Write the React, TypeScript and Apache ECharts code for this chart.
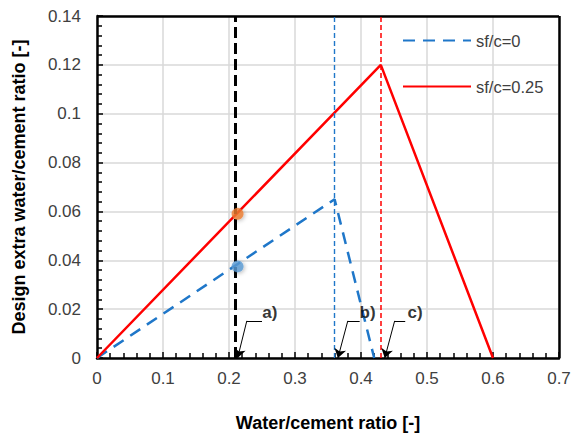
import React, { useEffect, useRef } from "react";
import * as echarts from "echarts";

const blueX = [0, 0.36, 0.42];
const blueY = [0, 0.065, 0];
const redX = [0, 0.43, 0.6];
const redY = [0, 0.12, 0];
const markA = 0.213;
const markB = 0.36;
const markC = 0.43;
const pointOrange = [0.213, 0.059];
const pointBlue = [0.213, 0.0375];
const annLabels = ["a)", "b)", "c)"];
const annTipX = [0.213, 0.365, 0.436];
const annElbowX = [0.227, 0.38, 0.451];
const annEndX = [0.25, 0.398, 0.467];
const annElbowY = 0.0152;
const annTextX = [0.262, 0.41, 0.482];
const annTextY = 0.0188;
const xTicks = [0, 0.1, 0.2, 0.3, 0.4, 0.5, 0.6, 0.7];
const yTicks = [0, 0.02, 0.04, 0.06, 0.08, 0.1, 0.12, 0.14];

const BLUE = "#1f77c9";
const RED = "#ff0000";
const FONT = "Liberation Sans, Arial, sans-serif";

export default function App() {
  const ref = useRef<HTMLDivElement>(null);
  useEffect(() => {
    if (!ref.current) return;
    const chart = echarts.init(ref.current, undefined, { renderer: "svg" });
    const zip = (xs: number[], ys: number[]) => xs.map((x, i) => [x, ys[i]]);
    const arrowLines: any[] = [];
    annLabels.forEach((_, i) => {
      arrowLines.push([
        { coord: [annEndX[i], annElbowY], symbol: "none" },
        { coord: [annElbowX[i], annElbowY], symbol: "none" },
      ]);
      arrowLines.push([
        { coord: [annElbowX[i], annElbowY], symbol: "none" },
        { coord: [annTipX[i], 0], symbol: "arrow" },
      ]);
    });
    const axisCommon = {
      type: "value",
      nameLocation: "middle",
      nameTextStyle: { fontSize: 18, fontWeight: "bold", color: "#000", fontFamily: FONT },
      axisLine: { show: true, onZero: false, lineStyle: { color: "#000", width: 2.5 } },
      axisTick: { show: true, inside: true, length: 6, lineStyle: { color: "#000", width: 1.5 } },
      minorTick: { show: true, splitNumber: 5, length: 5, lineStyle: { color: "#000", width: 1.5 } },
      splitLine: { show: true, lineStyle: { color: "#d9d9d9", width: 1.5 } },
    };
    const vline = (name: string, x: number, color: string, width: number, dash: number[]) => ({
      name,
      type: "line",
      data: [],
      silent: true,
      itemStyle: { color },
      markLine: {
        silent: true,
        symbol: "none",
        label: { show: false },
        lineStyle: { color, width, type: dash, opacity: 1 },
        data: [{ xAxis: x }],
      },
    });
    chart.setOption({
      animation: false,
      textStyle: { fontFamily: FONT },
      grid: { left: 97, right: 15, top: 16, bottom: 80, show: false },
      legend: {
        orient: "vertical",
        left: 397,
        top: 27,
        itemWidth: 68,
        itemHeight: 14,
        itemGap: 29,
        itemStyle: { color: "transparent", borderWidth: 0 },
        data: ["sf/c=0", "sf/c=0.25"],
        textStyle: { fontSize: 16.5, color: "#404040", fontFamily: FONT },
      },
      xAxis: {
        ...axisCommon,
        min: 0,
        max: xTicks[xTicks.length - 1],
        interval: 0.1,
        name: "Water/cement ratio [-]",
        nameGap: 56,
        axisLabel: { fontSize: 17, color: "#404040", margin: 12, formatter: (v: number) => String(+v.toFixed(2)) },
      },
      yAxis: {
        ...axisCommon,
        min: 0,
        max: yTicks[yTicks.length - 1],
        interval: 0.02,
        name: "Design extra water/cement ratio [-]",
        nameGap: 69,
        axisLabel: { fontSize: 17, color: "#404040", margin: 16, formatter: (v: number) => String(+v.toFixed(2)) },
      },
      series: [
        {
          name: "frame",
          type: "line",
          data: [],
          silent: true,
          markLine: {
            silent: true,
            symbol: "none",
            label: { show: false },
            lineStyle: { color: "#000", width: 2.5, type: "solid" },
            data: [{ xAxis: xTicks[xTicks.length - 1] }, { yAxis: yTicks[yTicks.length - 1] }],
          },
        },
        vline("vB", markB, BLUE, 1.4, [5, 3]),
        vline("vC", markC, RED, 1.5, [5, 3]),
        vline("vA", markA, "#000", 3, [11, 5]),
        {
          name: "sf/c=0",
          type: "line",
          data: zip(blueX, blueY),
          symbol: "none",
          lineStyle: { color: BLUE, width: 2.5, type: [12, 8] },
          itemStyle: { color: BLUE },
        },
        {
          name: "sf/c=0.25",
          type: "line",
          data: zip(redX, redY),
          symbol: "none",
          lineStyle: { color: RED, width: 2.5 },
          itemStyle: { color: RED },
        },
        {
          name: "points",
          type: "scatter",
          symbolSize: 12,
          z: 5,
          data: [
            { value: pointOrange, itemStyle: { color: "#ed7d31", shadowBlur: 4, shadowColor: "rgba(0,0,0,0.35)", shadowOffsetX: 1, shadowOffsetY: 1 } },
            { value: pointBlue, itemStyle: { color: "#5b9bd5", shadowBlur: 4, shadowColor: "rgba(0,0,0,0.35)", shadowOffsetX: 1, shadowOffsetY: 1 } },
          ],
        },
        {
          name: "arrows",
          type: "line",
          data: [],
          silent: true,
          markLine: {
            silent: true,
            symbolSize: 9,
            label: { show: false },
            lineStyle: { color: "#000", width: 1, type: "solid" },
            data: arrowLines,
          },
        },
        {
          name: "annText",
          type: "scatter",
          symbolSize: 0,
          z: 6,
          data: annLabels.map((l, i) => ({ value: [annTextX[i], annTextY], name: l })),
          label: {
            show: true,
            position: "inside",
            formatter: (p: any) => p.name,
            fontSize: 17,
            fontWeight: "bold",
            color: "#000",
            fontFamily: FONT,
          },
        },
      ],
    });
    return () => chart.dispose();
  }, []);
  return <div ref={ref} style={{ width: 574, height: 438, position: "absolute", left: 0, top: 0, background: "#fff" }} />;
}
